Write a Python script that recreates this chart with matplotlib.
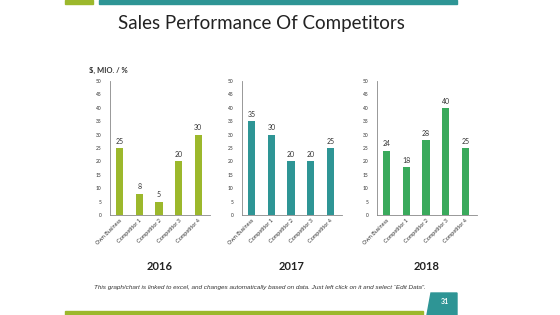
import numpy as np
import matplotlib
matplotlib.use("Agg")
import matplotlib.pyplot as plt
from matplotlib.patches import Rectangle, Polygon

categories = ["Own Business", "Competitor 1", "Competitor 2", "Competitor 3", "Competitor 4"]
years = ["2016", "2017", "2018"]
values_2016 = [25, 8, 5, 20, 30]
values_2017 = [35, 30, 20, 20, 25]
values_2018 = [24, 18, 28, 40, 25]
colors = ["#9cb82c", "#2e9595", "#3aaa5c"]

plt.rcParams['font.family'] = ['Lato', 'DejaVu Sans']

fig = plt.figure(figsize=(5.6, 3.15), dpi=100)
W, H = 560, 315

def px(x0, y0, w, h):
    # pixel box (top-left origin) -> figure fraction
    return [x0 / W, 1 - (y0 + h) / H, w / W, h / H]

# decorative bands
fig.add_artist(Rectangle((65 / W, 1 - 4 / H), 28 / W, 4 / H, transform=fig.transFigure, color="#9cb82c"))
fig.add_artist(Rectangle((99 / W, 1 - 4 / H), 358 / W, 4 / H, transform=fig.transFigure, color="#2e9595"))
fig.add_artist(Rectangle((65 / W, 0), 358 / W, 4 / H, transform=fig.transFigure, color="#9cb82c"))
fig.add_artist(Polygon([(427 / W, 0), (431 / W, 22 / H), (457 / W, 22 / H), (457 / W, 0)],
                       closed=True, transform=fig.transFigure, color="#2e9595"))
fig.text(445 / W, 1 - 302 / H, "31", color="white", fontsize=5, fontweight="bold", ha="center", va="center")

fig.text(261 / W, 1 - 23 / H, "Sales Performance Of Competitors", fontsize=13.5, ha="center", va="center", color="#222222")
fig.text(89 / W, 1 - 70 / H, "$, MIO. / %", fontsize=5.5, fontweight="bold", ha="left", va="center", color="#333333")
fig.text(260 / W, 1 - 287 / H,
         "This graph/chart is linked to excel, and changes automatically based on data. Just left click on it and select \u201cEdit Data\u201d.",
         fontsize=4.6, style="italic", ha="center", va="center", color="#333333",
         family=["Liberation Sans", "DejaVu Sans"])

lefts = [110, 242, 377]
data = [values_2016, values_2017, values_2018]
x = np.arange(len(categories))

for left, vals, col, yr in zip(lefts, data, colors, years):
    ax = fig.add_axes(px(left, 81, 100, 134))
    bars = ax.bar(x, vals, width=0.36, color=col)
    ax.set_xlim(-0.5, 4.6)
    ax.set_ylim(0, 50)
    ax.set_yticks(range(0, 51, 5))
    ax.set_xticks(x)
    ax.set_xticklabels(categories, rotation=45, ha="right", rotation_mode="anchor", fontsize=4)
    ax.tick_params(axis="y", labelsize=3.5, length=0, pad=6, colors="#333333")
    ax.tick_params(axis="x", length=0, pad=2, colors="#333333")
    for s in ["top", "right"]:
        ax.spines[s].set_visible(False)
    for s in ["left", "bottom"]:
        ax.spines[s].set_color("#888888")
        ax.spines[s].set_linewidth(0.6)
    for xi, v in zip(x, vals):
        ax.text(xi, v + 1.2, str(v), ha="center", va="bottom", fontsize=5, color="#333333")
    ax.set_xlabel(yr, fontsize=8, fontweight="bold", labelpad=11, color="#222222")

fig.savefig("out.png", dpi=100)
